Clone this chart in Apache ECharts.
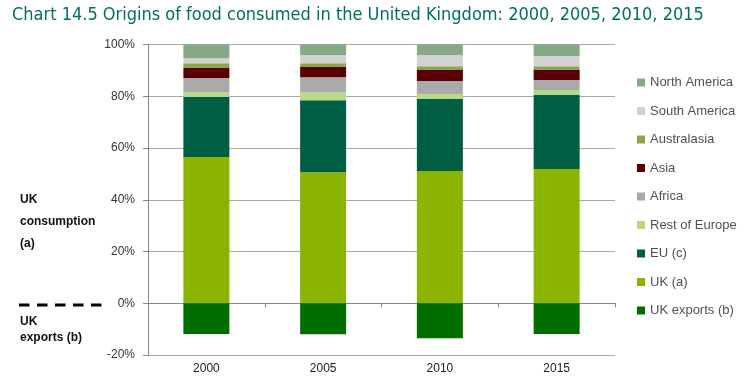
<!DOCTYPE html>
<html>
<head>
<meta charset="utf-8">
<script src="https://cdn.jsdelivr.net/npm/echarts@6/dist/echarts.min.js"></script>
<style>html,body{margin:0;padding:0;background:#fff}#c{width:751px;height:380px}</style>
</head>
<body>
<div id="c"></div>
<script>
var years = ['2000', '2005', '2010', '2015'];
var ukA = [56.5, 50.6, 51.1, 51.9];
var euC = [23.2, 27.9, 27.8, 28.6];
var restEurope = [1.9, 3.0, 2.0, 1.9];
var africa = [5.5, 5.8, 5.0, 3.9];
var asia = [3.8, 4.0, 4.2, 3.8];
var australasia = [1.9, 1.5, 1.5, 1.5];
var southAmerica = [1.9, 3.1, 4.3, 4.0];
var northAmerica = [5.2, 4.1, 4.1, 4.4];
var ukExports = [-11.9, -12.0, -13.5, -11.9];
var yTicks = [-20, 0, 20, 40, 60, 80, 100];

var font = "'Liberation Sans', Arial, sans-serif";
var chart = echarts.init(document.getElementById('c'), null, {renderer: 'canvas'});

function bar(name, data, color) {
  return {
    name: name, type: 'bar', stack: 'total', data: data,
    barWidth: '39.4%', itemStyle: {color: color}, xAxisIndex: 0
  };
}

var series = [
  bar('UK (a)', ukA, '#8BB400'),
  bar('EU (c)', euC, '#005E45'),
  bar('Rest of Europe', restEurope, '#B8DA88'),
  bar('Africa', africa, '#AAAAAA'),
  bar('Asia', asia, '#5B0000'),
  bar('Australasia', australasia, '#8AA64C'),
  bar('South America', southAmerica, '#D2D2D2'),
  bar('North America', northAmerica, '#86AA86'),
  bar('UK exports (b)', ukExports, '#006F00')
];

chart.setOption({
  animation: false,
  title: {
    text: 'Chart 14.5 Origins of food consumed in the United Kingdom: 2000, 2005, 2010, 2015',
    left: 7, top: 1,
    textStyle: {color: '#00705F', fontSize: 18, fontWeight: 'normal',
      fontFamily: "'Liberation Sans Narrow', 'DejaVu Sans Condensed', 'Liberation Sans', Arial, sans-serif"}
  },
  grid: {left: 148, right: 136, top: 44.5, bottom: 25, containLabel: false},
  legend: {
    orient: 'vertical', left: 632, top: 71,
    itemWidth: 8, itemHeight: 8, itemGap: 15.5,
    icon: 'rect',
    data: ['North America', 'South America', 'Australasia', 'Asia', 'Africa',
           'Rest of Europe', 'EU (c)', 'UK (a)', 'UK exports (b)'],
    textStyle: {color: '#505050', fontSize: 13, fontFamily: font}
  },
  xAxis: [{
    type: 'category', data: years, position: 'bottom',
    axisLine: {show: false, onZero: false}, axisTick: {show: false},
    axisLabel: {color: '#222', fontSize: 12, fontFamily: font, margin: 8}
  }, {
    type: 'category', data: years, position: 'top',
    axisLine: {show: true, onZero: true, lineStyle: {color: '#888', width: 1}},
    axisTick: {show: true, inside: true, length: 4, lineStyle: {color: '#888'}},
    axisLabel: {show: false}
  }],
  yAxis: {
    type: 'value', min: -20, max: 100, interval: 20,
    axisLine: {show: true, lineStyle: {color: '#888'}},
    axisTick: {show: true, length: 5, lineStyle: {color: '#888'}},
    axisLabel: {color: '#333', fontSize: 12, fontFamily: font, margin: 13,
      formatter: function (v) { return v + '%'; }},
    splitLine: {show: true, lineStyle: {color: '#a8a8a8', width: 1}}
  },
  graphic: [
    {type: 'text', left: 20, top: 194, style: {text: 'UK', font: 'bold 12px ' + font, fill: '#111'}},
    {type: 'text', left: 20, top: 216, style: {text: 'consumption', font: 'bold 12px ' + font, fill: '#111'}},
    {type: 'text', left: 20, top: 238, style: {text: '(a)', font: 'bold 12px ' + font, fill: '#111'}},
    {type: 'line', shape: {x1: 19, y1: 305, x2: 102, y2: 305},
      style: {stroke: '#000', lineWidth: 3, lineDash: [10.5, 7.5]}},
    {type: 'text', left: 20, top: 316, style: {text: 'UK', font: 'bold 12px ' + font, fill: '#111'}},
    {type: 'text', left: 20, top: 332, style: {text: 'exports (b)', font: 'bold 12px ' + font, fill: '#111'}}
  ],
  series: series
});
</script>
</body>
</html>
